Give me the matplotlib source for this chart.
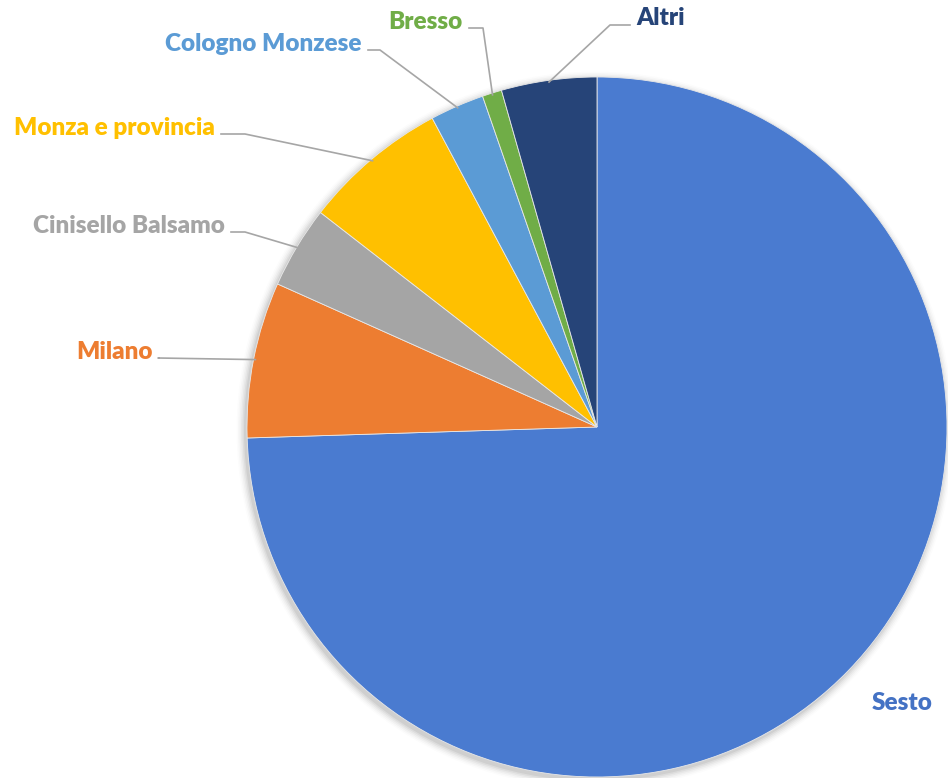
import matplotlib
matplotlib.use("Agg")
import matplotlib.pyplot as plt
import numpy as np
from matplotlib.patches import Circle

labels = ["Sesto", "Milano", "Cinisello Balsamo", "Monza e provincia",
          "Cologno Monzese", "Bresso", "Altri"]
values = [74.5, 7.2, 3.8, 6.7, 2.5, 0.9, 4.4]
colors = ["#4A7BD0", "#ED7D31", "#A5A5A5", "#FFC000", "#5B9BD5", "#70AD47", "#264478"]
label_colors = ["#4472C4", "#ED7D31", "#A5A5A5", "#FFC000", "#5B9BD5", "#70AD47", "#264478"]

W, H = 948, 778
fig = plt.figure(figsize=(W / 100, H / 100), dpi=100)
ax = fig.add_axes([0, 0, 1, 1])

cx, cy, R = 597, H - 427, 350

# soft shadow
for i, a in enumerate(np.linspace(0.05, 0.01, 6)):
    ax.add_patch(Circle((cx - 2, cy - 3), R + 1 + i * 1.5, color="black", alpha=a, lw=0, zorder=0))

wedges, _ = ax.pie(values, colors=colors, startangle=90, counterclock=False,
                   center=(cx, cy), radius=R,
                   wedgeprops=dict(linewidth=0.6, edgecolor="#e8e8e8"))

ax.set_xlim(0, W)
ax.set_ylim(0, H)
ax.set_aspect("auto")
ax.axis("off")

# label positions (pixel coords from top-left): (x, y, ha, elbow_x)
label_pos = {
    "Sesto": (902, 703, "center", None),
    "Milano": (153, 352, "right", 158),
    "Cinisello Balsamo": (225, 226, "right", 245),
    "Monza e provincia": (215, 128, "right", 245),
    "Cologno Monzese": (362, 44, "right", 380),
    "Bresso": (463, 22, "right", 483),
    "Altri": (636, 18, "left", 610),
}

for w, lab, lc in zip(wedges, labels, label_colors):
    x, y, ha, ex = label_pos[lab]
    ax.text(x, H - y, lab, ha=ha, va="center", color=lc, fontsize=17.5,
            fontweight="heavy", family="Lato")
    if ex is None:
        continue
    mid = np.deg2rad((w.theta1 + w.theta2) / 2)
    px, py = cx + R * 0.995 * np.cos(mid), cy + R * 0.995 * np.sin(mid)
    if ha == "right":
        sx = x + 6
    else:
        sx = x - 6
    ly = H - y - 6 if lab != "Altri" else H - y - 7
    ax.plot([sx, ex, px], [ly, ly, py], color="#A6A6A6", lw=1.2, zorder=5)

fig.savefig("out.png", dpi=100)
